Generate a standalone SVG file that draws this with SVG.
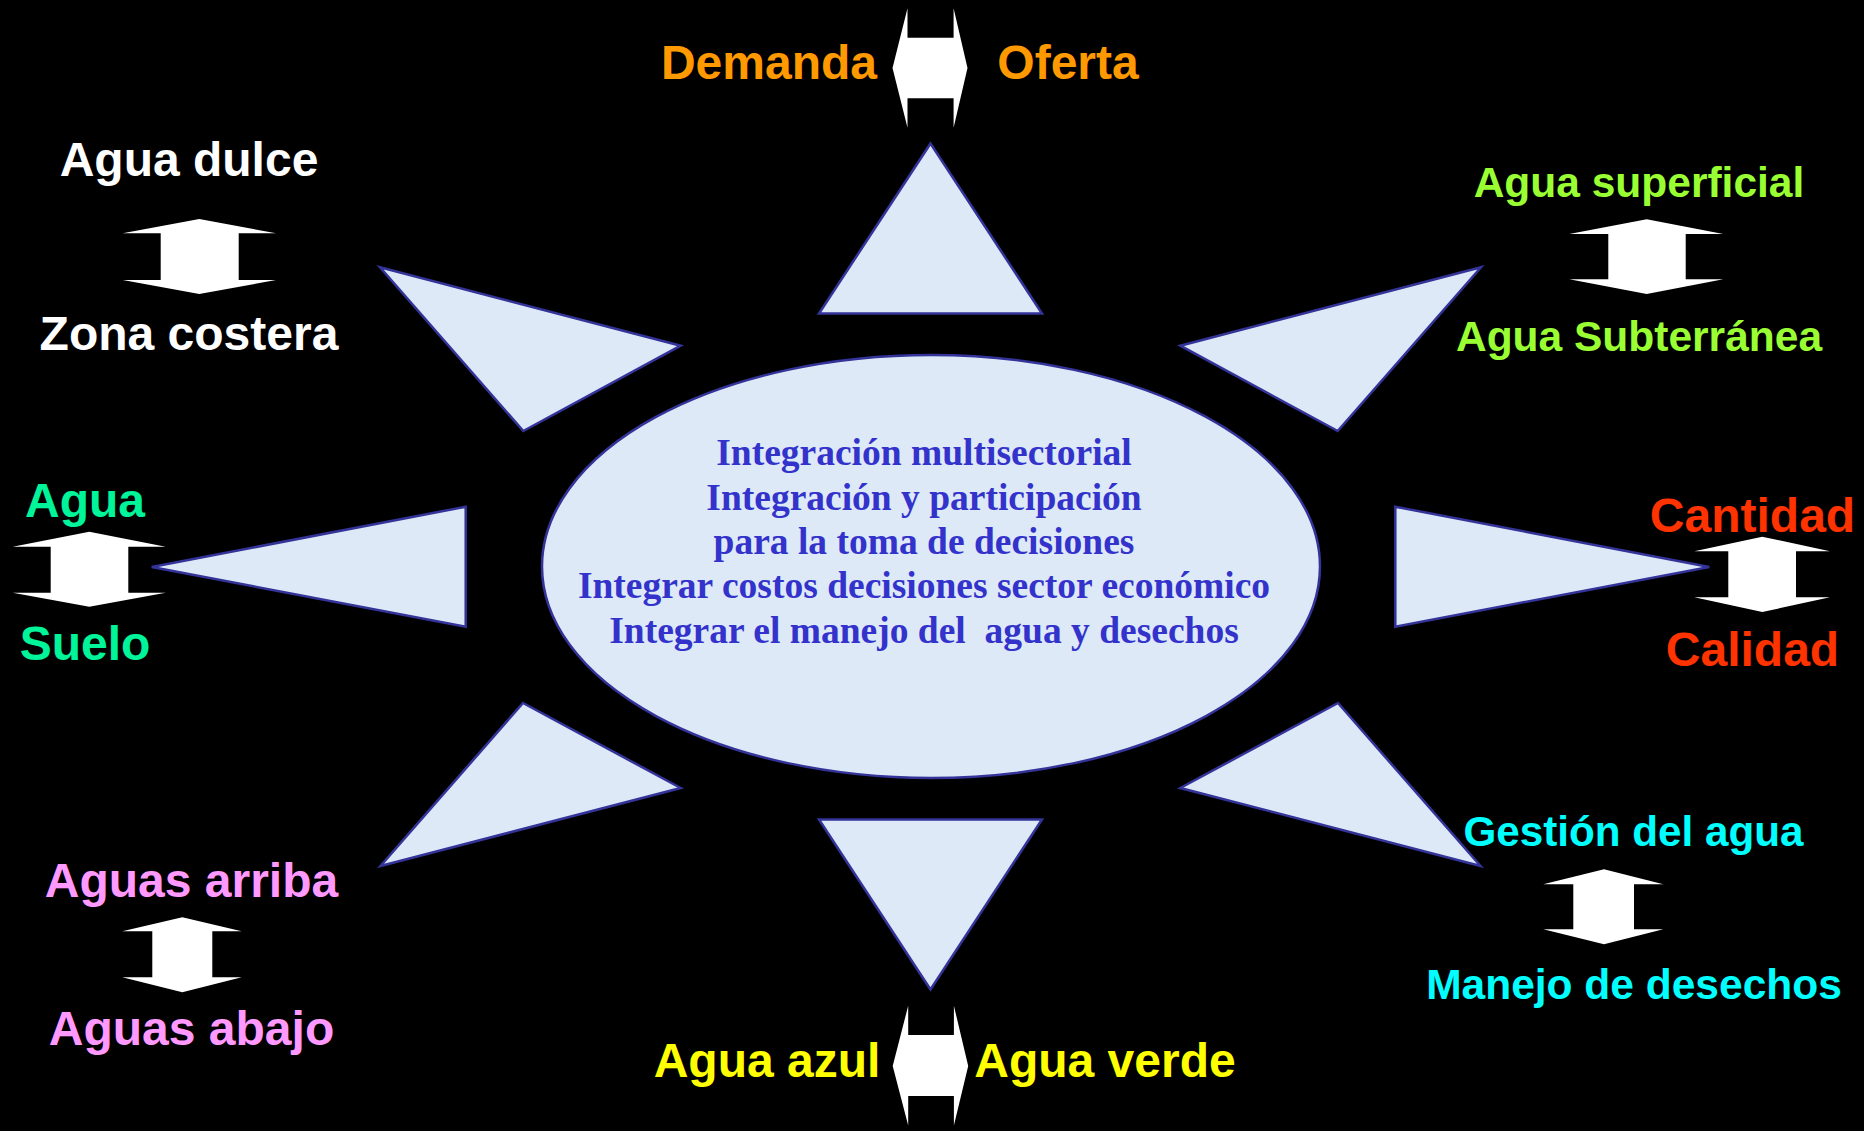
<svg xmlns="http://www.w3.org/2000/svg" width="1864" height="1131" viewBox="0 0 1864 1131">
  <style>
    .shape { fill: #DDE9F7; stroke: #333399; stroke-width: 2.5; stroke-linejoin: miter; }
    .arrow { fill: #FFFFFF; stroke: none; }
    .lbl { font-family: "Liberation Sans", Arial, sans-serif; font-weight: bold; font-size: 48px; text-anchor: middle; }
    .center { font-family: "Liberation Serif", "Times New Roman", serif; font-weight: bold; font-size: 37.5px; fill: #3333CC; text-anchor: middle; }
  </style>
  <rect x="0" y="0" width="1864" height="1131" fill="#000000"/>

  <g id="rays">
    <polygon id="ray-top" class="shape" points="930.5,143.5 819,313.5 1042,313.5"/>
    <polygon id="ray-bottom" class="shape" points="930.5,989.5 819,819.5 1042,819.5"/>
    <polygon id="ray-upper-left" class="shape" points="380,267.3 680.7,345.7 523.3,431"/>
    <polygon id="ray-upper-right" class="shape" points="1481,267.3 1180.3,345.7 1337.7,431"/>
    <polygon id="ray-lower-left" class="shape" points="380.5,866 680.7,788 523,703"/>
    <polygon id="ray-lower-right" class="shape" points="1480.5,866 1180.3,788 1338,703"/>
    <polygon id="ray-left" class="shape" points="151.7,567 465.7,506.7 465.7,626.7"/>
    <polygon id="ray-right" class="shape" points="1709.3,567 1395.3,506.7 1395.3,626.7"/>
  </g>

  <g id="center-node">
    <ellipse class="shape" cx="931" cy="566.5" rx="389" ry="211.5"/>
    <text class="center" x="924" y="465">Integración multisectorial</text>
    <text class="center" x="924" y="510">Integración y participación</text>
    <text class="center" x="924" y="554">para la toma de decisiones</text>
    <text class="center" x="924" y="598">Integrar costos decisiones sector económico</text>
    <text class="center" x="924" y="643" xml:space="preserve">Integrar el manejo del  agua y desechos</text>
  </g>

  <g id="connectors">
    <polygon id="arrow-demanda-oferta" class="arrow" points="907.5,8.3 907.5,37.7 953.6,37.7 953.6,8.3 967.5,68 953.6,127.7 953.6,98.3 907.5,98.3 907.5,127.7 892.5,68"/>
    <polygon id="arrow-azul-verde" class="arrow" points="908.2,1005.7 908.2,1035 953.9,1035 953.9,1005.7 968.2,1066 953.9,1125.5 953.9,1096 908.2,1096 908.2,1125.5 892.7,1066"/>
    <polygon id="arrow-dulce-costera" class="arrow" points="199.3,219 276,233.3 238.7,233.3 238.7,280 276,280 199.3,294 122.7,280 160.7,280 160.7,233.3 122.7,233.3"/>
    <polygon id="arrow-superficial-subterranea" class="arrow" points="1646.7,219.3 1723.3,234 1685.7,234 1685.7,279.3 1723.3,279.3 1646.7,294 1569.3,279.3 1608.3,279.3 1608.3,234 1569.3,234"/>
    <polygon id="arrow-agua-suelo" class="arrow" points="89.3,531.7 165.7,546.7 128.3,546.7 128.3,592.7 165.7,592.7 89.3,606.7 12.7,592.7 50.7,592.7 50.7,546.7 12.7,546.7"/>
    <polygon id="arrow-cantidad-calidad" class="arrow" points="1762.3,536.7 1830,551.3 1796,551.3 1796,597.3 1830,597.3 1762.3,612 1694.3,597.3 1728.3,597.3 1728.3,551.3 1694.3,551.3"/>
    <polygon id="arrow-arriba-abajo" class="arrow" points="182.3,917.3 241.7,931.3 212.3,931.3 212.3,977.3 241.7,977.3 182.3,992.3 122.3,977.3 152.3,977.3 152.3,931.3 122.3,931.3"/>
    <polygon id="arrow-gestion-manejo" class="arrow" points="1604,869.3 1663.3,884.3 1634,884.3 1634,929.3 1663.3,929.3 1604,944.3 1543.3,929.3 1573.3,929.3 1573.3,884.3 1543.3,884.3"/>
  </g>

  <g id="label-demanda"><text class="lbl" x="769" y="79" fill="#FF9900">Demanda</text></g>
  <g id="label-oferta"><text class="lbl" x="1068" y="79" fill="#FF9900">Oferta</text></g>
  <g id="label-agua-dulce"><text class="lbl" x="189" y="176" fill="#FFFFFF">Agua dulce</text></g>
  <g id="label-zona-costera"><text class="lbl" x="189" y="350" fill="#FFFFFF">Zona costera</text></g>
  <g id="label-agua-superficial"><text class="lbl" x="1639" y="197" fill="#99FF33" style="font-size:42.5px">Agua superficial</text></g>
  <g id="label-agua-subterranea"><text class="lbl" x="1639" y="351" fill="#99FF33" style="font-size:42.5px">Agua Subterránea</text></g>
  <g id="label-agua"><text class="lbl" x="85" y="517" fill="#00F59A">Agua</text></g>
  <g id="label-suelo"><text class="lbl" x="85" y="660" fill="#00F59A">Suelo</text></g>
  <g id="label-cantidad"><text class="lbl" x="1752.5" y="532" fill="#FF3300">Cantidad</text></g>
  <g id="label-calidad"><text class="lbl" x="1752.5" y="666" fill="#FF3300">Calidad</text></g>
  <g id="label-aguas-arriba"><text class="lbl" x="191.5" y="897" fill="#FF99FF">Aguas arriba</text></g>
  <g id="label-aguas-abajo"><text class="lbl" x="191.5" y="1045" fill="#FF99FF">Aguas abajo</text></g>
  <g id="label-gestion"><text class="lbl" x="1633.5" y="846" fill="#00FFFF" style="font-size:42.2px">Gestión del agua</text></g>
  <g id="label-manejo"><text class="lbl" x="1634" y="999" fill="#00FFFF" style="font-size:42.5px">Manejo de desechos</text></g>
  <g id="label-agua-azul"><text class="lbl" x="767" y="1077" fill="#FFFF00">Agua azul</text></g>
  <g id="label-agua-verde"><text class="lbl" x="1105" y="1077" fill="#FFFF00">Agua verde</text></g>
</svg>
